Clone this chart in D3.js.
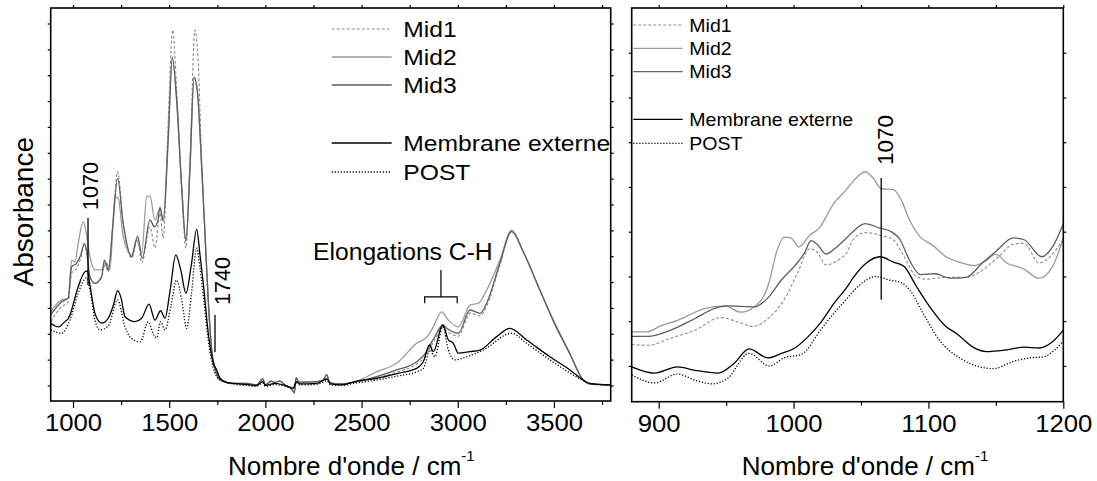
<!DOCTYPE html>
<html><head><meta charset="utf-8">
<script src="https://cdn.jsdelivr.net/npm/d3@7"></script>
<style>
html,body{margin:0;padding:0;background:#fff;}
svg{display:block;}
text{font-family:"Liberation Sans",Arial,Helvetica,sans-serif;fill:#000;}
</style></head>
<body>
<svg id="c" width="1097" height="481"></svg>
<script>
// ---------- DATA ----------
const seriesNames = ["Mid1", "Mid2", "Mid3", "Membrane externe", "POST"];

const leftTicks = [1000, 1500, 2000, 2500, 3000, 3500];
const leftMinorTicks = [1250, 1750, 2250, 2750, 3250, 3750];
const rightTicks = [900, 1000, 1100, 1200];
const rightMinorTicks = [950, 1050, 1150];

// baseline noise region (shared by the three Mid spectra)
const baseMid = [[1900,0.068],[1954,0.062],[1986,0.085],[2000,0.062],[2030,0.077],[2050,0.072],[2075,0.077],[2102,0.062],[2140,0.043],[2150,0.031],[2160,0.089],[2175,0.073],[2267,0.075],[2300,0.081],[2319,0.101],[2335,0.070],[2388,0.066]];
const baseMem = [[1900,0.064],[1954,0.060],[1986,0.075],[2000,0.060],[2050,0.068],[2102,0.060],[2145,0.050],[2160,0.075],[2180,0.066],[2267,0.068],[2319,0.085],[2340,0.066],[2388,0.062]];
const basePost = [[1900,0.060],[1954,0.057],[1986,0.070],[2000,0.057],[2050,0.064],[2102,0.057],[2145,0.050],[2160,0.070],[2180,0.062],[2267,0.064],[2319,0.078],[2340,0.062],[2388,0.060]];

// Left panel (full spectrum), [wavenumber, absorbance a.u.]
const leftMid1Low = [[884,0.307],[941,0.365],[975,0.383],[993,0.494],[1019,0.513],[1040,0.553],[1059,0.603],[1070,0.576],[1088,0.481],[1114,0.455],[1149,0.476],[1163,0.538],[1184,0.499],[1205,0.669],[1232,0.887],[1261,0.681],[1305,0.553],[1336,0.630],[1357,0.534],[1400,0.674],[1426,0.592],[1452,0.726],[1469,0.629],[1495,1.087],[1518,1.435],[1539,1.203],[1565,0.816],[1587,0.591],[1608,0.932],[1634,1.435],[1650,1.319],[1669,0.932],[1686,0.642],[1703,0.383],[1721,0.190],[1738,0.120],[1764,0.081],[1833,0.066]];
const leftMid1High = [[2475,0.073],[2578,0.089],[2682,0.112],[2786,0.143],[2838,0.178],[2856,0.205],[2881,0.236],[2922,0.286],[2943,0.271],[3003,0.251],[3064,0.340],[3116,0.329],[3150,0.367],[3219,0.526],[3280,0.661],[3341,0.576],[3427,0.429],[3497,0.309],[3583,0.182],[3652,0.081],[3687,0.066],[3791,0.062]];

const leftMid2Low = [[884,0.345],[941,0.391],[975,0.397],[993,0.545],[1010,0.538],[1027,0.610],[1053,0.694],[1066,0.661],[1088,0.558],[1114,0.507],[1149,0.507],[1175,0.533],[1192,0.507],[1218,0.790],[1235,0.784],[1261,0.636],[1305,0.565],[1331,0.623],[1357,0.571],[1383,0.790],[1400,0.793],[1426,0.700],[1452,0.745],[1469,0.700],[1495,1.035],[1516,1.332],[1539,1.164],[1565,0.829],[1587,0.616],[1608,0.906],[1629,1.254],[1646,1.203],[1669,0.906],[1686,0.649],[1703,0.391],[1721,0.197],[1738,0.120],[1764,0.081],[1833,0.068]];
const leftMid2High = [[2475,0.077],[2578,0.113],[2682,0.146],[2786,0.223],[2847,0.254],[2873,0.287],[2916,0.345],[2951,0.313],[3003,0.287],[3064,0.371],[3107,0.378],[3150,0.429],[3219,0.545],[3280,0.661],[3341,0.577],[3427,0.429],[3497,0.313],[3583,0.184],[3652,0.081],[3687,0.066],[3791,0.062]];

const leftMid3Low = [[884,0.333],[941,0.384],[975,0.398],[993,0.519],[1019,0.533],[1040,0.565],[1059,0.610],[1070,0.584],[1088,0.481],[1114,0.455],[1149,0.481],[1163,0.545],[1184,0.507],[1205,0.661],[1232,0.861],[1261,0.687],[1305,0.558],[1336,0.638],[1360,0.552],[1400,0.700],[1423,0.674],[1440,0.692],[1452,0.750],[1469,0.696],[1495,1.010],[1516,1.325],[1539,1.160],[1565,0.825],[1587,0.620],[1608,0.900],[1629,1.250],[1646,1.200],[1669,0.900],[1686,0.645],[1703,0.391],[1721,0.197],[1738,0.128],[1764,0.085],[1833,0.068]];
const leftMid3High = [[2475,0.075],[2578,0.094],[2682,0.120],[2786,0.152],[2838,0.191],[2856,0.217],[2881,0.249],[2922,0.294],[2943,0.281],[3003,0.262],[3064,0.352],[3116,0.339],[3150,0.378],[3219,0.533],[3280,0.655],[3341,0.576],[3427,0.429],[3497,0.309],[3583,0.182],[3652,0.081],[3687,0.066],[3791,0.062]];

const leftMemLow = [[884,0.301],[924,0.287],[958,0.307],[975,0.318],[984,0.333],[1027,0.442],[1062,0.500],[1075,0.503],[1088,0.449],[1114,0.339],[1149,0.301],[1183,0.320],[1210,0.371],[1232,0.427],[1250,0.398],[1270,0.326],[1322,0.307],[1357,0.320],[1395,0.375],[1426,0.313],[1455,0.349],[1478,0.321],[1505,0.429],[1534,0.565],[1560,0.507],[1587,0.417],[1615,0.526],[1643,0.664],[1660,0.565],[1677,0.456],[1703,0.263],[1729,0.147],[1747,0.120],[1764,0.088],[1800,0.072],[1833,0.068]];
const leftMemHigh = [[2475,0.077],[2578,0.088],[2690,0.107],[2786,0.126],[2821,0.152],[2853,0.217],[2873,0.191],[2922,0.294],[2951,0.236],[2977,0.223],[3003,0.185],[3064,0.191],[3116,0.197],[3202,0.249],[3271,0.281],[3358,0.236],[3479,0.171],[3583,0.120],[3652,0.081],[3687,0.068],[3791,0.062]];

const leftPostLow = [[884,0.275],[941,0.262],[984,0.313],[1027,0.417],[1070,0.476],[1088,0.429],[1114,0.313],[1140,0.275],[1183,0.290],[1232,0.391],[1270,0.287],[1300,0.244],[1350,0.229],[1391,0.306],[1420,0.255],[1435,0.244],[1455,0.307],[1478,0.275],[1510,0.371],[1538,0.468],[1565,0.391],[1591,0.281],[1615,0.410],[1643,0.591],[1660,0.514],[1680,0.391],[1703,0.236],[1729,0.128],[1764,0.081],[1833,0.066]];
const leftPostHigh = [[2475,0.070],[2578,0.081],[2690,0.097],[2786,0.113],[2821,0.126],[2856,0.197],[2881,0.171],[2922,0.287],[2951,0.197],[2986,0.159],[3046,0.171],[3133,0.197],[3280,0.262],[3358,0.223],[3479,0.159],[3652,0.079],[3687,0.066],[3791,0.060]];

// Right panel (zoom 880-1200 cm-1)
const rightMid1 = [[880,0.324],[892,0.323],[909,0.331],[927,0.340],[946,0.354],[959,0.349],[970,0.344],[981,0.353],[993,0.374],[1003,0.404],[1012,0.431],[1017,0.428],[1024,0.413],[1033,0.418],[1040,0.428],[1044,0.441],[1053,0.449],[1064,0.446],[1074,0.441],[1082,0.422],[1091,0.400],[1098,0.397],[1113,0.399],[1128,0.399],[1140,0.407],[1152,0.422],[1163,0.436],[1171,0.437],[1182,0.415],[1192,0.425],[1200,0.442]];
const rightMid2 = [[880,0.338],[891,0.338],[902,0.345],[914,0.351],[934,0.364],[949,0.367],[961,0.360],[971,0.366],[981,0.389],[988,0.430],[993,0.444],[998,0.443],[1004,0.433],[1012,0.446],[1019,0.454],[1030,0.482],[1038,0.495],[1044,0.506],[1053,0.517],[1059,0.510],[1065,0.498],[1074,0.497],[1080,0.485],[1086,0.463],[1094,0.444],[1103,0.435],[1113,0.422],[1123,0.416],[1134,0.412],[1143,0.418],[1150,0.425],[1158,0.415],[1170,0.409],[1182,0.398],[1192,0.411],[1200,0.443]];
const rightMid3 = [[880,0.333],[892,0.333],[909,0.340],[927,0.353],[941,0.364],[951,0.367],[971,0.366],[981,0.376],[991,0.396],[1001,0.412],[1008,0.426],[1013,0.440],[1018,0.435],[1024,0.425],[1032,0.433],[1040,0.444],[1044,0.450],[1053,0.459],[1064,0.454],[1071,0.451],[1079,0.441],[1086,0.418],[1094,0.402],[1105,0.403],[1116,0.398],[1128,0.399],[1140,0.415],[1150,0.428],[1163,0.443],[1171,0.441],[1184,0.422],[1192,0.433],[1200,0.459]];
const rightMem = [[880,0.299],[897,0.292],[914,0.299],[927,0.295],[944,0.292],[956,0.303],[967,0.319],[981,0.309],[991,0.314],[1001,0.320],[1011,0.333],[1020,0.348],[1030,0.370],[1040,0.389],[1044,0.398],[1054,0.415],[1064,0.422],[1074,0.416],[1082,0.411],[1091,0.389],[1101,0.366],[1113,0.344],[1121,0.336],[1133,0.321],[1143,0.316],[1158,0.318],[1171,0.321],[1182,0.320],[1192,0.327],[1200,0.340]];
const rightPost = [[880,0.290],[897,0.281],[914,0.291],[927,0.284],[940,0.280],[951,0.286],[967,0.314],[982,0.300],[993,0.309],[1006,0.313],[1020,0.340],[1030,0.359],[1040,0.376],[1044,0.383],[1054,0.396],[1061,0.400],[1071,0.396],[1080,0.393],[1086,0.385],[1096,0.359],[1108,0.329],[1123,0.309],[1138,0.299],[1148,0.297],[1163,0.305],[1175,0.309],[1185,0.310],[1193,0.317],[1200,0.328]];

// Annotations
const leftMarkers = [{label:"1070", x:1078, y0:0.449, y1:0.708}, {label:"1740", x:1738, y0:0.190, y1:0.333}];
const rightMarkers = [{label:"1070", x:1065, y0:0.374, y1:0.510}];
const chBracket = {label:"Elongations C-H", x0:2828, x1:2997, yBar:0.403, yEnd:0.378, yTop:0.507};

// ---------- STYLES ----------
const styles = [
  {stroke:"#8c8c8c", dash:"3,2", width:1.1},
  {stroke:"#9a9a9a", dash:null, width:1.3},
  {stroke:"#5e5e5e", dash:null, width:1.3},
  {stroke:"#000000", dash:null, width:1.3},
  {stroke:"#000000", dash:"1.2,1.8", width:1.3}
];

const svg = d3.select("#c");
function stretch(sel, k){
  sel.each(function(){
    const L = this.getComputedTextLength();
    this.setAttribute("textLength", L*k);
    this.setAttribute("lengthAdjust", "spacingAndGlyphs");
  });
}

function panel(cfg){
  const g = svg.append("g");
  const x = d3.scaleLinear().domain(cfg.xDomain).range([cfg.x0, cfg.x1]);
  const y = d3.scaleLinear().domain(cfg.yDomain).range([cfg.y1, cfg.y0]);
  const clipId = "clip"+cfg.id;
  svg.append("clipPath").attr("id", clipId).append("rect")
    .attr("x", cfg.x0).attr("y", cfg.y0).attr("width", cfg.x1-cfg.x0).attr("height", cfg.y1-cfg.y0);

  // axes ticks
  const axB = g.append("g").attr("transform",`translate(0,${cfg.y1})`)
    .call(d3.axisBottom(x).tickValues(cfg.ticks).tickSize(7).tickSizeOuter(0).tickPadding(6).tickFormat(d3.format("d")));
  const axBm = g.append("g").attr("transform",`translate(0,${cfg.y1})`)
    .call(d3.axisBottom(x).tickValues(cfg.minor).tickSize(4).tickSizeOuter(0).tickFormat(""));
  const axT = g.append("g").attr("transform",`translate(0,${cfg.y0})`)
    .call(d3.axisTop(x).tickValues(cfg.ticks.concat(cfg.minor)).tickSize(3).tickSizeOuter(0).tickFormat(""));
  const axL = g.append("g").attr("transform",`translate(${cfg.x0},0)`)
    .call(d3.axisLeft(y).tickValues(cfg.yTicks).tickSize(3).tickSizeOuter(0).tickFormat(""));
  const axR = g.append("g").attr("transform",`translate(${cfg.x1},0)`)
    .call(d3.axisRight(y).tickValues(cfg.yTicks).tickSize(3).tickSizeOuter(0).tickFormat(""));
  [axB,axBm,axT,axL,axR].forEach(a=>{
    a.select(".domain").remove();
    a.selectAll("line").attr("stroke","#000").attr("stroke-width",1.2);
  });
  axB.selectAll("text").style("font-size","24px").attr("fill","#000")
    .attr("font-family",'"Liberation Sans",Arial,sans-serif').call(stretch, 1.07);

  // curves
  const line = d3.line().x(d=>x(d[0])).y(d=>y(d[1])).curve(d3.curveMonotoneX);
  const cg = g.append("g").attr("clip-path",`url(#${clipId})`);
  cfg.series.forEach((s,i)=>{
    cg.append("path").datum(s).attr("d", line)
      .attr("fill","none").attr("stroke", styles[i].stroke)
      .attr("stroke-width", styles[i].width)
      .attr("stroke-dasharray", styles[i].dash)
      .attr("stroke-linejoin","round");
  });

  // markers
  cfg.markers.forEach(m=>{
    g.append("line").attr("x1",x(m.x)).attr("x2",x(m.x)).attr("y1",y(m.y0)).attr("y2",y(m.y1))
      .attr("stroke","#000").attr("stroke-width",1.3);
  });

  // frame
  g.append("rect").attr("x",cfg.x0).attr("y",cfg.y0).attr("width",cfg.x1-cfg.x0).attr("height",cfg.y1-cfg.y0)
    .attr("fill","none").attr("stroke","#000").attr("stroke-width",1.6);

  // legend
  const lg = g.append("g");
  cfg.legend.rows.forEach((ry,i)=>{
    lg.append("line").attr("x1",cfg.legend.lx0).attr("x2",cfg.legend.lx1).attr("y1",ry).attr("y2",ry)
      .attr("stroke",styles[i].stroke).attr("stroke-width",styles[i].width).attr("stroke-dasharray",styles[i].dash);
    lg.append("text").attr("x",cfg.legend.tx).attr("y",ry + cfg.legend.fs*0.36)
      .style("font-size",cfg.legend.fs+"px").text(seriesNames[i]).call(stretch, cfg.legend.k);
  });

  // x title
  const t = g.append("text").attr("x",cfg.titleX).attr("y",475).style("font-size","26px");
  t.append("tspan").text("Nombre d'onde / cm");
  t.append("tspan").attr("dy",-14).style("font-size","15px").text("-1");
  return {g,x,y};
}

const left = panel({
  id:"L", x0:50.7, x1:610.7, y0:8, y1:401,
  xDomain:[884,3795], yDomain:[0,1.52],
  ticks:leftTicks, minor:leftMinorTicks,
  yTicks:d3.range(0.06,1.5,0.1),
  series:[
    leftMid1Low.concat(baseMid, leftMid1High),
    leftMid2Low.concat(baseMid, leftMid2High),
    leftMid3Low.concat(baseMid, leftMid3High),
    leftMemLow.concat(baseMem, leftMemHigh),
    leftPostLow.concat(basePost, leftPostHigh)
  ],
  markers:leftMarkers,
  legend:{lx0:331.7, lx1:391.7, tx:403.3, rows:[29,57,85,143,172], fs:22, k:1.12},
  titleX:228
});

const right = panel({
  id:"R", x0:631.7, x1:1063.3, y0:8, y1:401.7,
  xDomain:[880,1200], yDomain:[0.26,0.70],
  ticks:rightTicks, minor:rightMinorTicks,
  yTicks:d3.range(0.30,0.70,0.05),
  series:[rightMid1, rightMid2, rightMid3, rightMem, rightPost],
  markers:rightMarkers,
  legend:{lx0:633.3, lx1:682.7, tx:689.3, rows:[25,48.3,71.7,119.3,143.3], fs:18.6, k:1.05},
  titleX:741.7
});

// marker labels (rotated)
function vLabel(px, pyCenter, txt, fs){
  return svg.append("text").attr("transform",`translate(${px},${pyCenter}) rotate(-90)`)
    .attr("text-anchor","middle").style("font-size",fs+"px").text(txt);
}
vLabel(left.x(leftMarkers[0].x)+10, 186, leftMarkers[0].label, 21.7);
vLabel(left.x(leftMarkers[1].x)+15, 281, leftMarkers[1].label, 21.6);
vLabel(right.x(rightMarkers[0].x)+11.6, 140, rightMarkers[0].label, 22.5);

// C-H bracket
{
  const x = left.x, y = left.y, b = chBracket;
  const p = d3.path();
  p.moveTo(x(b.x0), y(b.yEnd)); p.lineTo(x(b.x0), y(b.yBar)); p.lineTo(x(b.x1), y(b.yBar)); p.lineTo(x(b.x1), y(b.yEnd));
  p.moveTo(x((b.x0+b.x1)/2), y(b.yBar)); p.lineTo(x((b.x0+b.x1)/2), y(b.yTop));
  svg.append("path").attr("d",p.toString()).attr("fill","none").attr("stroke","#000").attr("stroke-width",1.2);
  svg.append("text").attr("x",313).attr("y",260).style("font-size","23.5px").text(b.label).call(stretch,1.05);
}

// y title
svg.append("text").attr("transform","translate(33.3,211.7) rotate(-90)").attr("text-anchor","middle")
  .style("font-size","28px").text("Absorbance");
</script>
</body></html>
